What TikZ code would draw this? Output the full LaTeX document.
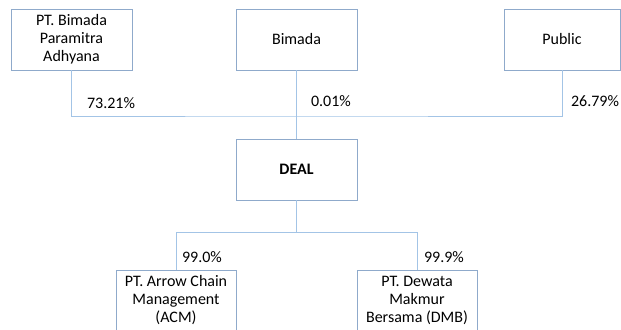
\documentclass[tikz,border=0pt]{standalone}
\usepackage{fontspec}
\setmainfont{Carlito}
\usepackage{tikz}
\usetikzlibrary{positioning,calc}
\definecolor{edge}{HTML}{8FAACB}
\definecolor{wire}{HTML}{A3C4E6}
\tikzset{
  box/.style={rectangle, draw=edge, fill=white, line width=0.65pt, align=center,
              inner sep=2pt, minimum width=90.75pt, minimum height=45.75pt, font=\fontsize{12}{13.5}\selectfont},
  share/.style={font=\fontsize{12}{13.5}\selectfont, inner sep=1pt},
  link/.style={draw=wire, line width=0.65pt}
}
\begin{document}
\begin{tikzpicture}[x=0.75pt, y=-0.75pt]
  \useasboundingbox (0,0) rectangle (621,329);
  \clip (0,0) rectangle (621,329);

  % owners
  \node[box] (pba) at (71.5,39.5) {PT. Bimada\\Paramitra\\Adhyana};
  \node[box] (bimada) at (296.5,39.5) {Bimada};
  \node[box, minimum width=87pt] (public) at (562,39.5) {Public};

  % holding
  \node[box] (deal) at (296.5,169.5) {\bfseries DEAL};

  % subsidiaries
  \node[box, minimum width=90pt] (acm) at (176,300.5) {PT. Arrow Chain\\Management\\(ACM)};
  \node[box, minimum width=90pt] (dmb) at (417,300.5) {PT. Dewata\\Makmur\\Bersama (DMB)};

  \coordinate (bus) at (296.5,116);
  \coordinate (split) at (296.5,232.5);

  \draw[link] (pba.south) |- (bus) -| (public.south);
  \draw[link] (bimada.south) -- (deal.north);
  \draw[link] (deal.south) -- (split);
  \draw[link] (acm.north) |- (split) -| (dmb.north);

  % stakes
  \node[share] (p1) at (111,103) {73.21\%};
  \node[share] (p2) at (331,101) {0.01\%};
  \node[share] (p3) at (595,101) {26.79\%};
  \node[share] (p4) at (202,257) {99.0\%};
  \node[share] (p5) at (444,257) {99.9\%};
\end{tikzpicture}
\end{document}
